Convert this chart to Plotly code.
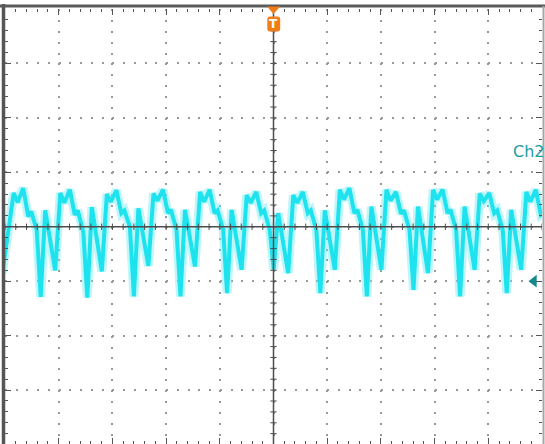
import plotly.graph_objects as go

# Ch2 trace, time in divisions (-5..5), amplitude in divisions (-4..4)
t_div = [
    -5.05,
    -4.838, -4.763, -4.661, -4.568, -4.512, -4.409, -4.335, -4.251, -4.065,
    -3.970, -3.895, -3.793, -3.700, -3.644, -3.541, -3.467, -3.383, -3.197,
    -3.103, -3.028, -2.926, -2.833, -2.777, -2.674, -2.600, -2.516, -2.330,
    -2.235, -2.160, -2.058, -1.965, -1.909, -1.806, -1.732, -1.648, -1.462,
    -1.367, -1.292, -1.190, -1.097, -1.041, -0.938, -0.864, -0.780, -0.594,
    -0.499, -0.424, -0.322, -0.229, -0.173, -0.070, 0.004, 0.088, 0.274,
    0.369, 0.444, 0.546, 0.639, 0.695, 0.798, 0.872, 0.956, 1.142,
    1.236, 1.311, 1.413, 1.506, 1.562, 1.665, 1.739, 1.823, 2.009,
    2.104, 2.179, 2.281, 2.374, 2.430, 2.533, 2.607, 2.691, 2.877,
    2.972, 3.047, 3.149, 3.242, 3.298, 3.401, 3.475, 3.559, 3.745,
    3.840, 3.915, 4.017, 4.110, 4.166, 4.269, 4.343, 4.427, 4.613,
    4.708, 4.783, 4.885, 4.978, 5.03,
]
v_div = [
    -0.85,
    0.62, 0.45, 0.71, 0.19, 0.28, -0.06, -1.29, 0.30, -0.80,
    0.62, 0.44, 0.68, 0.22, 0.30, -0.10, -1.30, 0.36, -0.82,
    0.60, 0.46, 0.67, 0.25, 0.30, 0.00, -1.28, 0.34, -0.72,
    0.61, 0.48, 0.68, 0.25, 0.31, -0.06, -1.28, 0.31, -0.73,
    0.64, 0.46, 0.68, 0.25, 0.30, -0.05, -1.22, 0.31, -0.79,
    0.58, 0.44, 0.64, 0.25, 0.30, -0.06, -0.78, 0.25, -0.85,
    0.58, 0.44, 0.64, 0.25, 0.30, -0.06, -1.22, 0.30, -0.79,
    0.68, 0.50, 0.71, 0.25, 0.31, -0.06, -1.28, 0.37, -0.79,
    0.68, 0.48, 0.64, 0.24, 0.30, -0.06, -1.16, 0.37, -0.85,
    0.68, 0.50, 0.68, 0.25, 0.31, -0.06, -1.28, 0.37, -0.79,
    0.61, 0.47, 0.62, 0.25, 0.30, -0.06, -1.22, 0.31, -0.79,
    0.64, 0.46, 0.68, 0.22, 0.26,
]

channel_label = "Ch2"
ch2_ref_level = -1.0
trigger_label = "T"

W, H = 545, 444
ML, MR, MT, MB = 5, 3, 9, 0
X_RANGE = [-5, 5]
Y_RANGE = [-3.99, 4.0]
pw = W - ML - MR
ph = H - MT - MB
px_x = pw / (X_RANGE[1] - X_RANGE[0])
px_y = ph / (Y_RANGE[1] - Y_RANGE[0])

fig = go.Figure()
fig.add_trace(go.Scatter(x=t_div, y=v_div, mode="lines",
                         line=dict(color="rgba(110,234,244,0.45)", width=9),
                         hoverinfo="skip"))
fig.add_trace(go.Scatter(x=t_div, y=v_div, mode="lines",
                         line=dict(color="#1ee3ef", width=4)))
# Ch2 reference arrow
fig.add_trace(go.Scatter(x=[4.85], y=[ch2_ref_level], mode="markers",
                         marker=dict(symbol="triangle-left", size=11, color="#13898c"),
                         cliponaxis=False))

shapes = []
dark = "#4d4d4d"
# centre crosshair (drawn above the trace)
shapes.append(dict(type="line", xref="x", yref="y", x0=-5, x1=5, y0=0, y1=0,
                   line=dict(color=dark, width=1.5), layer="above"))
shapes.append(dict(type="line", xref="x", yref="y", x0=0, x1=0, y0=-4, y1=4,
                   line=dict(color=dark, width=1.5), layer="above"))
hx = 3.2 / px_y
hy = 3.2 / px_x
minor_x = [round(-5 + 0.2 * i, 3) for i in range(51)]
minor_y = [round(-4 + 0.2 * i, 3) for i in range(41)]
p = "".join(f"M{x},{-hx} L{x},{hx} " for x in minor_x)
shapes.append(dict(type="path", xref="x", yref="y", path=p,
                   line=dict(color=dark, width=1), layer="above"))
p = "".join(f"M{-hy},{y} L{hy},{y} " for y in minor_y)
shapes.append(dict(type="path", xref="x", yref="y", path=p,
                   line=dict(color=dark, width=1), layer="above"))

# borders
shapes.append(dict(type="line", xref="paper", yref="paper",
                   x0=-1.5 / pw, x1=-1.5 / pw, y0=-0.01, y1=1 + 5 / ph,
                   line=dict(color="#555555", width=3.5), layer="above"))
shapes.append(dict(type="line", xref="paper", yref="paper",
                   x0=-5 / pw, x1=1 + 3 / pw, y0=1 + 3 / ph, y1=1 + 3 / ph,
                   line=dict(color="#5a5a5a", width=3), layer="above"))
shapes.append(dict(type="line", xref="paper", yref="paper",
                   x0=1 + 1.5 / pw, x1=1 + 1.5 / pw, y0=-0.01, y1=1 + 3 / ph,
                   line=dict(color="#a8a8a8", width=2), layer="above"))

# trigger marker
orange = "#f07d17"
def py(ypx):
    return (H - MB - ypx) / ph
shapes.append(dict(type="path", xref="x", yref="paper",
                   path=f"M-0.12,{py(6.5)} L0.125,{py(6.5)} L0.0,{py(14)} Z",
                   fillcolor=orange, line=dict(color=orange, width=0), layer="above"))
x0, x1 = -0.115, 0.125
y0, y1 = py(31.5), py(16.5)
rx, ry = 0.05, 3 / ph
rp = (f"M{x0+rx},{y1} L{x1-rx},{y1} Q{x1},{y1} {x1},{y1-ry} L{x1},{y0+ry} "
      f"Q{x1},{y0} {x1-rx},{y0} L{x0+rx},{y0} Q{x0},{y0} {x0},{y0+ry} "
      f"L{x0},{y1-ry} Q{x0},{y1} {x0+rx},{y1} Z")
shapes.append(dict(type="path", xref="x", yref="paper", path=rp,
                   fillcolor=orange, line=dict(color=orange, width=0), layer="above"))

annotations = [
    dict(text=f"<b>{trigger_label}</b>", x=0.005, xref="x", y=py(24), yref="paper",
         showarrow=False, font=dict(color="white", size=12, family="DejaVu Sans"),
         xanchor="center", yanchor="middle"),
    dict(text=channel_label, x=(512 - ML) / pw, xref="paper", y=py(151), yref="paper",
         showarrow=False, font=dict(color="#1b9ca1", size=16, family="DejaVu Sans"),
         xanchor="left", yanchor="middle", borderpad=0),
]

axis_common = dict(showticklabels=False, zeroline=False, showline=False,
                   ticks="inside", tickcolor="#555555", tickwidth=1,
                   mirror="ticks", fixedrange=True, gridcolor="#999999", gridwidth=2)
fig.update_layout(
    width=W, height=H,
    margin=dict(l=ML, r=MR, t=MT, b=MB, pad=0),
    paper_bgcolor="white", plot_bgcolor="white",
    showlegend=False,
    xaxis=dict(range=X_RANGE, dtick=1, tick0=0, ticklen=6,
               griddash=f"2px,{px_y/5-2:.2f}px",
               minor=dict(dtick=0.2, ticks="inside", ticklen=3, tickcolor="#555555",
                          showgrid=False),
               **axis_common),
    yaxis=dict(range=Y_RANGE, dtick=1, tick0=0, ticklen=6,
               griddash=f"2px,{px_x/5-2:.2f}px",
               minor=dict(dtick=0.2, ticks="inside", ticklen=3, tickcolor="#555555",
                          showgrid=False),
               **axis_common),
    shapes=shapes,
    annotations=annotations,
)

fig.write_html("out.html", config={"displayModeBar": False},
               post_script="document.body.style.margin='0px';"
                           "document.body.style.overflow='hidden';")
